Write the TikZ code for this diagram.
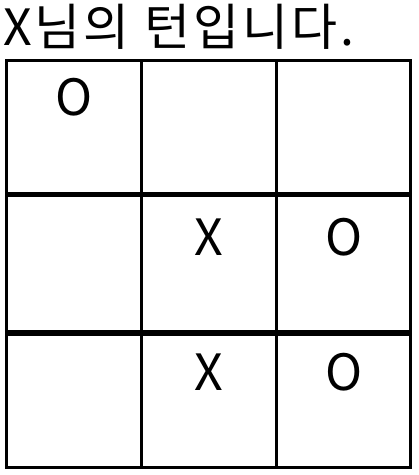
\documentclass[tikz,border=0pt]{standalone}
\usepackage{fontspec}
\newfontfamily\krfont{Noto Sans CJK KR}
\newfontfamily\krspaced[LetterSpace=6]{Noto Sans CJK KR}
\begin{document}
\begin{tikzpicture}[x=1pt,y=-1pt,
  thinline/.style={line width=3pt},
  thickline/.style={line width=5.6pt},
  glyph/.style={font=\krfont\fontsize{50}{50}\selectfont, inner sep=0pt, anchor=base}]
\useasboundingbox (0,0) rectangle (419,475);
\node[glyph, font=\krspaced\fontsize{50}{50}\selectfont, anchor=base west] (title) at (3,45) {X님의 턴입니다.};
% grid corners
\coordinate (tl) at (6.5,60);
\coordinate (br) at (410.5,467.5);
\coordinate (v1t) at (141.5,60);
\coordinate (v1b) at (141.5,467.5);
\coordinate (v2t) at (276.5,60);
\coordinate (v2b) at (276.5,467.5);
\coordinate (h1l) at (6.5,194.5);
\coordinate (h1r) at (410.5,194.5);
\coordinate (h2l) at (6.5,333);
\coordinate (h2r) at (410.5,333);
\draw[thinline] (v1t) -- (v1b);
\draw[thinline] (v2t) -- (v2b);
\draw[thickline] (h1l) -- (h1r);
\draw[thickline] (h2l) -- (h2r);
\draw[thinline] (tl) rectangle (br);
% marks
\node[glyph] (c11) at (74,115) {O};
\node[glyph] (c22) at (209,255) {X};
\node[glyph] (c23) at (344,255) {O};
\node[glyph] (c32) at (209,390) {X};
\node[glyph] (c33) at (344,390) {O};
\end{tikzpicture}
\end{document}
